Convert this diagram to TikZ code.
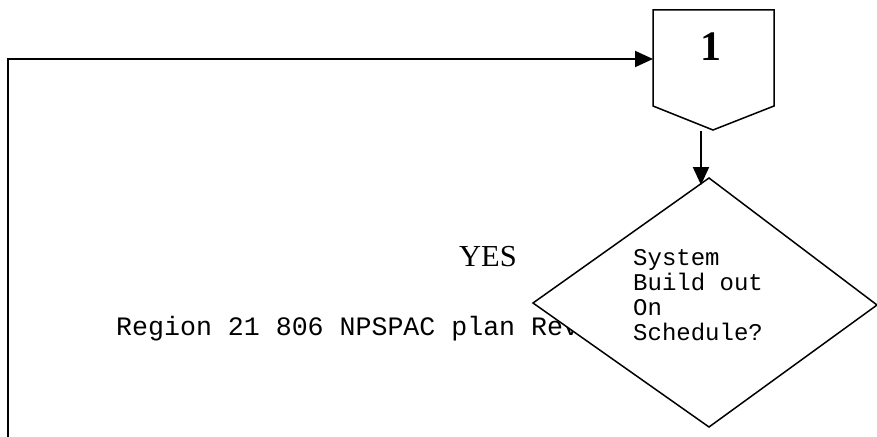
\documentclass[tikz,border=0pt]{standalone}
\usepackage{fontspec}
\setmainfont{Liberation Serif}
\setmonofont{Liberation Mono}
\usetikzlibrary{arrows.meta}
\begin{document}
\begin{tikzpicture}[x=1pt,y=-1pt,
  shapeline/.style={draw=black,line width=1.5pt,line join=miter},
  conn/.style={draw=black,line width=2pt,-{Triangle[length=18pt,width=16pt]}},
  monotxt/.style={font=\fontsize{24}{25}\selectfont\ttfamily,inner sep=0pt,align=left},
]
\useasboundingbox (0,0) rectangle (877,436);
% off-page connector "1"
\coordinate (p1) at (653,10);
\coordinate (p2) at (774,10);
\coordinate (p3) at (774,106);
\coordinate (pb) at (713,130);
\coordinate (p5) at (653,106);
\coordinate (pin) at (653,59);
\draw[shapeline] (p1) -- (p2) -- (p3) -- (pb) -- (p5) -- cycle;
\node[font=\fontsize{42}{42}\selectfont\bfseries,inner sep=0pt,anchor=base] (one) at (711,60) {1};
% decision diamond
\coordinate (dt) at (709,178);
\coordinate (dl) at (533,303);
\coordinate (dr) at (877,305);
\coordinate (db) at (709,427);
% text under the diamond
\node[font=\fontsize{26.6}{26.6}\selectfont\ttfamily,inner sep=0pt,anchor=base west] (region) at (116,335) {Region 21 806 NPSPAC plan Rev};
\draw[shapeline,fill=white] (dt) -- (dr) -- (db) -- (dl) -- cycle;
\node[monotxt,anchor=base west] (q) at (633,340) {System\\Build out\\On\\Schedule?};
\node[font=\fontsize{30.5}{30.5}\selectfont,inner sep=0pt,anchor=base west] (yes) at (459,266) {YES};
% connectors
\coordinate (lb) at (8,437);
\coordinate (lt) at (8,59);
\draw[conn] (lb) -- (lt) -- (pin);
\coordinate (as) at (701,131);
\coordinate (ae) at (701,185);
\draw[conn] (as) -- (ae);
\end{tikzpicture}
\end{document}
